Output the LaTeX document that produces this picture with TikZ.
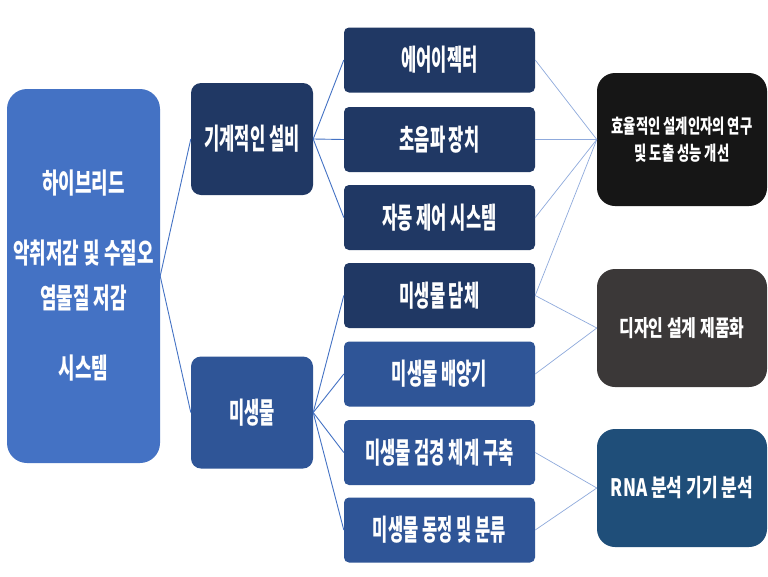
\documentclass[tikz,border=0pt]{standalone}
\usepackage{fontspec}
\newfontfamily\krbig[FakeStretch=0.57]{Noto Sans CJK KR}
\newfontfamily\krroot[FakeStretch=0.64]{Noto Sans CJK KR}
\newfontfamily\krsmall[FakeStretch=0.68]{Noto Sans CJK KR}
\newfontfamily\krgoal[FakeStretch=0.71]{Noto Sans CJK KR}
\definecolor{rootblue}{HTML}{4472C4}
\definecolor{navy}{HTML}{203864}
\definecolor{midblue}{HTML}{2F5597}
\definecolor{nearblack}{HTML}{161616}
\definecolor{darkgray}{HTML}{3B3838}
\definecolor{rnablue}{HTML}{1F4E79}
\definecolor{paleblue}{HTML}{8FAADC}
\tikzstyle{rootbox} = [rectangle, rounded corners=20pt, minimum width=153pt, minimum height=374pt, align=center, text=white, fill=rootblue, font=\krroot\bfseries\fontsize{28}{45}\selectfont]
\tikzstyle{lvone} = [rectangle, rounded corners=10pt, minimum width=122pt, minimum height=112pt, text centered, text=white, font=\krbig\bfseries\fontsize{29}{34}\selectfont]
\tikzstyle{lvtwo} = [rectangle, rounded corners=5pt, minimum width=191pt, minimum height=65pt, text centered, text=white, font=\krbig\bfseries\fontsize{29}{34}\selectfont]
\tikzstyle{goal} = [rectangle, rounded corners=18pt, minimum width=170pt, align=center, text=white]
\tikzstyle{link} = [rootblue, line width=0.9pt]
\tikzstyle{thinlink} = [paleblue, line width=0.7pt]

\begin{document}
\begin{tikzpicture}[x=1pt, y=-1pt]
    \fill [white] (0,0) rectangle (768,576);
    \useasboundingbox (0,0) rectangle (768,576);
    \node [rootbox] at (83.5,276) (root) {하이브리드\\[25pt]악취저감 및 수질오\\염물질 저감\\[25pt]시스템};
    \node [lvone, fill=navy] at (252,139) (mech) {기계적인 설비};
    \node [lvone, fill=midblue] at (252,412.5) (micro) {미생물};
    \node [lvtwo, fill=navy] at (439.5,60) (ejector) {에어이젝터};
    \node [lvtwo, fill=navy] at (439.5,139.5) (sonic) {초음파 장치};
    \node [lvtwo, fill=navy] at (439.5,217.5) (control) {자동 제어 시스템};
    \node [lvtwo, fill=navy] at (439.5,295.5) (carrier) {미생물 담체};
    \node [lvtwo, fill=midblue] at (439.5,374) (culture) {미생물 배양기};
    \node [lvtwo, fill=midblue] at (439.5,452.5) (inspect) {미생물 검경 체계 구축};
    \node [lvtwo, fill=midblue] at (439.5,530) (identify) {미생물 동정 및 분류};
    \node [goal, fill=nearblack, minimum height=133pt, font=\krsmall\bfseries\fontsize{19.6}{27}\selectfont] at (682,139.5) (design) {효율적인 설계인자의 연구\\및 도출 성능 개선};
    \node [goal, fill=darkgray, minimum height=118pt, font=\krgoal\bfseries\fontsize{22.5}{27}\selectfont] at (682,328) (product) {디자인 설계 제품화};
    \node [goal, fill=rnablue, minimum height=118pt, font=\krgoal\bfseries\fontsize{24}{27}\selectfont] at (682,488) (rna) {RNA 분석 기기 분석};
    \draw [link] (root.east) -- (mech.west);
    \draw [link] (root.east) -- (micro.west);
    \draw [link] (mech.east) -- (ejector.west);
    \draw [link] (mech.east) -- (sonic.west);
    \draw [link] (mech.east) -- (control.west);
    \draw [link] (micro.east) -- (carrier.west);
    \draw [link] (micro.east) -- (culture.west);
    \draw [link] (micro.east) -- (inspect.west);
    \draw [link] (micro.east) -- (identify.west);
    \draw [thinlink] (ejector.east) -- (design.west);
    \draw [thinlink] (sonic.east) -- (design.west);
    \draw [thinlink] (control.east) -- (design.west);
    \draw [thinlink] (carrier.east) -- (design.west);
    \draw [thinlink] (carrier.east) -- (product.west);
    \draw [thinlink] (culture.east) -- (product.west);
    \draw [thinlink] (inspect.east) -- (rna.west);
    \draw [thinlink] (identify.east) -- (rna.west);
\end{tikzpicture}
\end{document}
